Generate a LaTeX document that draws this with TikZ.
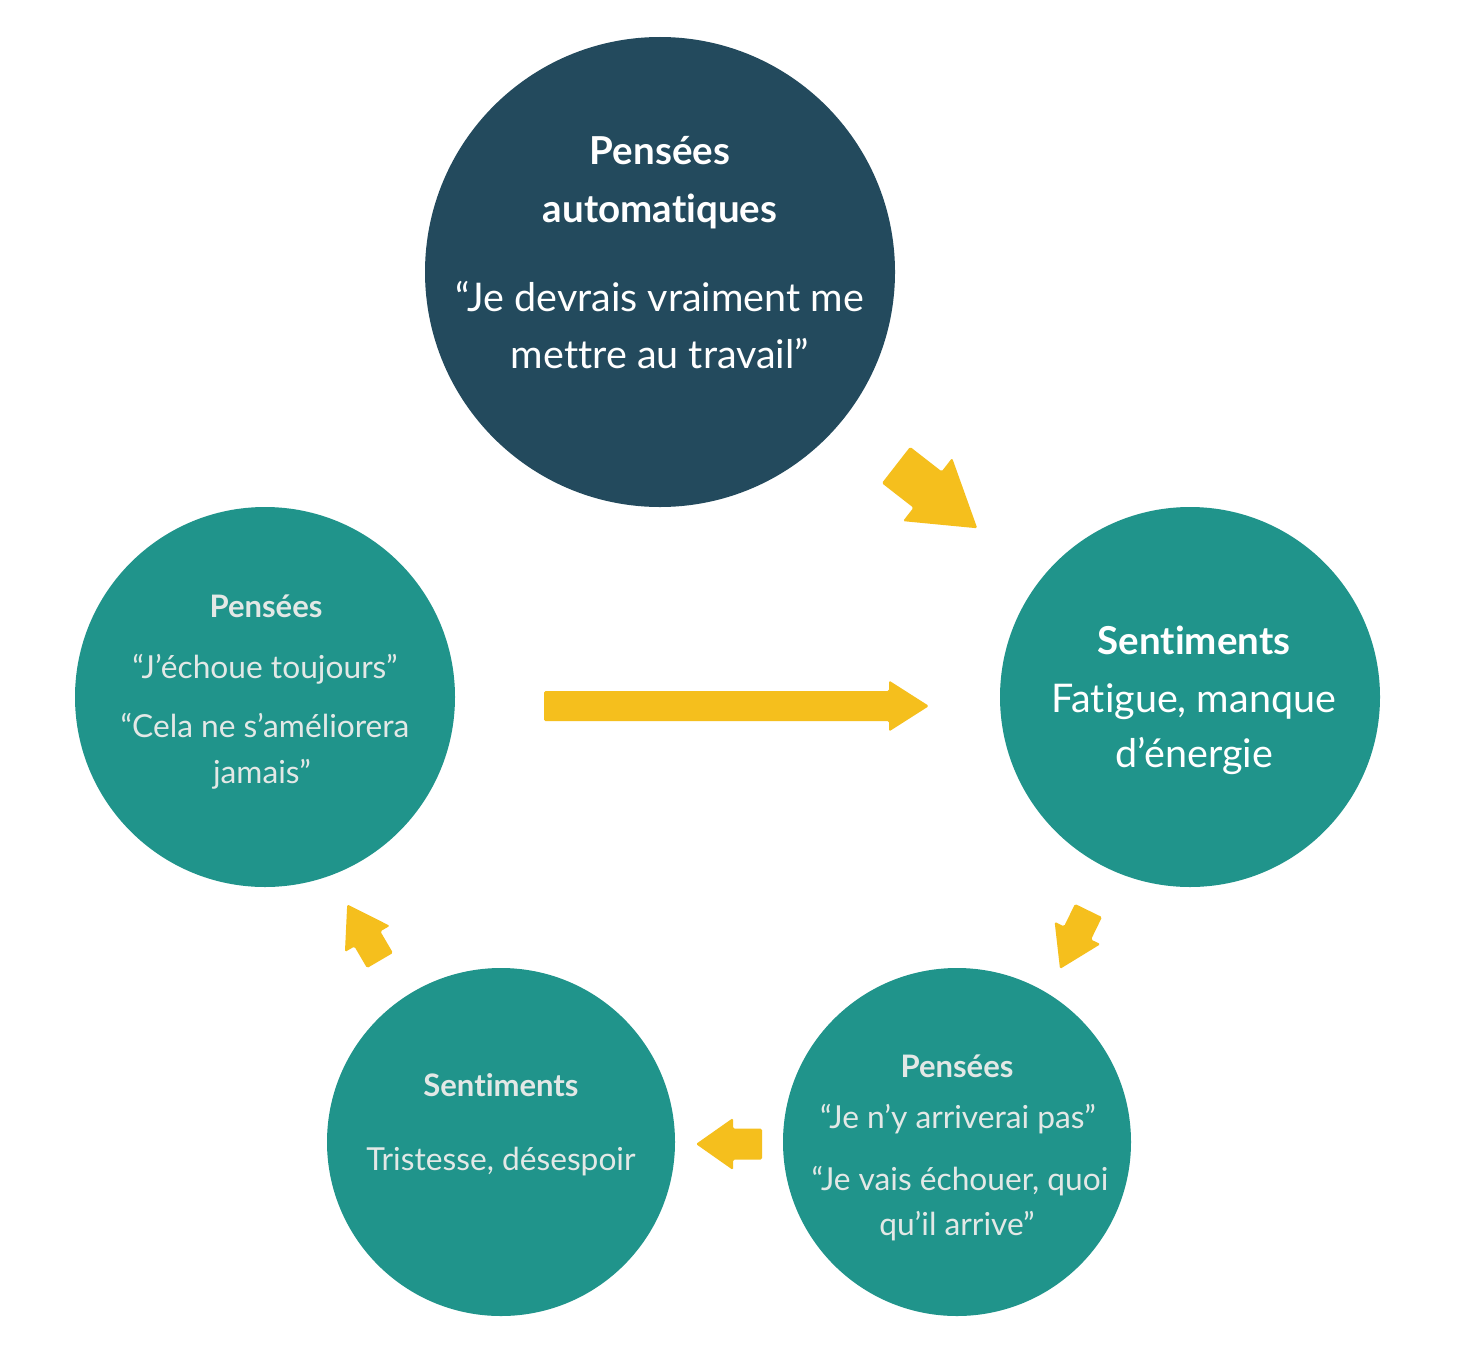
\documentclass[tikz,border=0pt]{standalone}
\usepackage{fontspec}
\setmainfont{Lato}[Ligatures={NoCommon}]
\definecolor{navy}{HTML}{234A5D}
\definecolor{teal}{HTML}{20948B}
\definecolor{ayellow}{HTML}{F5BF1D}
\definecolor{lighttext}{HTML}{E3E8E6}
\tikzset{
  bubble/.style={circle, inner sep=0pt, draw=none},
  bigtxt/.style={anchor=base, inner sep=0pt, text=white, font=\fontsize{39.5}{46}\selectfont},
  bigtitle/.style={bigtxt, font=\fontsize{38.5}{46}\selectfont\bfseries},
  smalltxt/.style={anchor=base, inner sep=0pt, text=lighttext, font=\fontsize{31.7}{38}\selectfont},
  smalltitle/.style={smalltxt, font=\fontsize{31}{38}\selectfont\bfseries},
  pics/blockarrow/.style n args={4}{code={
    \fill[ayellow, rounded corners=1.5pt]
      (0,-#2/2) -- ({#1-#4},-#2/2) -- ({#1-#4},-#3/2) -- (#1,0)
      -- ({#1-#4},#3/2) -- ({#1-#4},#2/2) -- (0,#2/2) -- cycle;
  }}
}
\begin{document}
\begin{tikzpicture}[x=1pt,y=-1pt]
\useasboundingbox[fill=white] (0,0) rectangle (1458,1354);

% circles
\node[bubble, fill=navy, minimum size=470pt] (top) at (660,272) {};
\node[bubble, fill=teal, minimum size=380pt] (right) at (1190,697) {};
\node[bubble, fill=teal, minimum size=380pt] (left) at (265,697) {};
\node[bubble, fill=teal, minimum size=348pt] (bright) at (957,1142) {};
\node[bubble, fill=teal, minimum size=348pt] (bleft) at (501,1142) {};

% top circle text
\node[bigtitle] (t1) at (660,164) {Pensées};
\node[bigtitle] (t2) at (660,222) {automatiques};
\node[bigtxt] (t3) at (660,311) {“Je devrais vraiment me};
\node[bigtxt] (t4) at (660,368) {mettre au travail”};

% right circle text
\node[bigtitle] (r1) at (1194,654) {Sentiments};
\node[bigtxt] (r2) at (1194,712) {Fatigue, manque};
\node[bigtxt] (r3) at (1194,767) {d’énergie};

% left circle text
\node[smalltitle] (l1) at (266,617) {Pensées};
\node[smalltxt] (l2) at (265,678) {“J’échoue toujours”};
\node[smalltxt] (l3) at (265,737) {“Cela ne s’améliorera};
\node[smalltxt] (l4) at (262,783) {jamais”};

% bottom right text
\node[smalltitle] (br1) at (957,1077) {Pensées};
\node[smalltxt] (br2) at (958,1128) {“Je n’y arriverai pas”};
\node[smalltxt] (br3) at (960,1190) {“Je vais échouer, quoi};
\node[smalltxt] (br4) at (957,1235) {qu’il arrive”};

% bottom left text
\node[smalltitle] (bl1) at (501,1096) {Sentiments};
\node[smalltxt] (bl2) at (501,1170) {Tristesse, désespoir};

% arrows
\pic[rotate=-37.9] at (896,465) {blockarrow={103}{46}{80}{63}};
\pic at (544,706) {blockarrow={385}{30}{51}{40}};
\pic[rotate=-116] at (1088.5,910.5) {blockarrow={65}{30}{51}{40}};
\pic[rotate=180] at (762,1144) {blockarrow={66}{31}{52}{37}};
\pic[rotate=120.3] at (380,960.5) {blockarrow={65}{30}{52}{40}};
\end{tikzpicture}
\end{document}
